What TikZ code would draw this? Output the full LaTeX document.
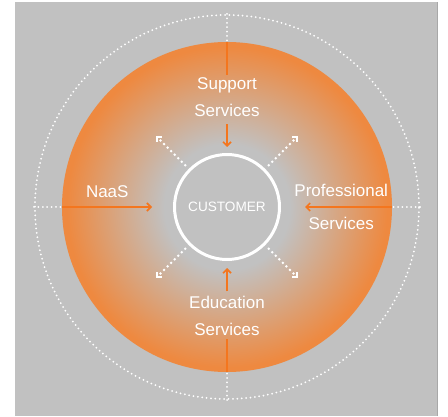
\documentclass[tikz,border=0pt]{standalone}
\usepackage{fontspec}
\setmainfont{Liberation Sans}
\usetikzlibrary{arrows.meta, positioning, calc}
\definecolor{panelgrey}{HTML}{C1C1C1}
\definecolor{edgegrey}{HTML}{A8A8A8}
\definecolor{ringorange}{HTML}{EE8940}
\definecolor{lineorange}{HTML}{F4761E}
\pgfdeclareradialshading{ringglow}{\pgfpoint{0bp}{0bp}}{%
    color(0bp)=(panelgrey); color(9.5bp)=(panelgrey);
    color(24.3bp)=(ringorange); color(25bp)=(ringorange); color(50bp)=(ringorange)}
\tikzset{
    disc/.style={
        circle, minimum size=330pt, inner sep=0pt,
        shading=ringglow
    },
    orbit/.style={
        circle, minimum size=384pt, inner sep=0pt,
        draw=white, line width=2pt,
        dash pattern=on 0pt off 4.4pt, line cap=round
    },
    hub/.style={
        circle, minimum size=105pt, inner sep=0pt,
        draw=white, line width=3pt, text=white,
        font=\fontsize{13.6}{16}\selectfont
    },
    svc/.style={
        text=white, align=center, inner sep=3pt,
        font=\fontsize{17}{27}\selectfont
    },
    spoke/.style={draw=white, line width=2pt, dash pattern=on 0pt off 4.4pt, line cap=round},
    feed/.style={draw=lineorange, line width=1.6pt},
    feed arr/.style={feed, -{Straight Barb[length=4pt, width=8pt]}},
    spread/.style={draw=white, line width=2pt, dash pattern=on 2pt off 3pt,
        -{Straight Barb[angle=90:5pt, line width=2pt]}}
}
\begin{document}
\begin{tikzpicture}[x=1pt, y=1pt]

    % --- Panel ---
    \useasboundingbox (0,0) rectangle (448,416);
    \fill[panelgrey] (15,0) rectangle (438,414);
    \draw[edgegrey, line width=0.8pt] (437.6,0) -- (437.6,414);

    % --- Circles ---
    \node[orbit] (orbit) at (227,209) {};
    \node[disc] (ring) at (227,209) {};
    \node[hub] (customer) at (ring.center) {CUSTOMER};

    % --- Services round the customer ---
    \node[svc, below=33pt of ring.north] (support) {Support\\Services};
    \node[svc, above=33pt of ring.south] (education) {Education\\Services};
    \node[svc, right=21pt of ring.west, yshift=15pt] (naas) {NaaS};
    \node[svc, left=1pt of ring.east, font=\fontsize{17}{33}\selectfont] (professional) {Professional\\Services};

    % --- Dotted ticks ---
    \draw[spoke] (orbit.north) -- (ring.north);
    \draw[spoke] (orbit.south) -- (ring.south);
    \draw[spoke] (orbit.west) -- (ring.west);
    \draw[spoke] (orbit.east) -- (ring.east);

    % --- Orange feeds ---
    \draw[feed] (ring.north) -- (support.north);
    \draw[feed arr, shorten <=4pt, shorten >=6pt] (support.south) -- (customer.north);
    \draw[feed] (ring.south) -- (education.south);
    \draw[feed arr, shorten <=2pt, shorten >=7pt] (education.north) -- (customer.south);
    \draw[feed arr, shorten >=21pt] (ring.west) -- (customer.west);
    \draw[feed arr, shorten >=24pt] (ring.east) -- (customer.east);

    % --- Diagonal spreads ---
    \foreach \ang/\nm in {45/ne, 135/nw, 225/sw, 315/se} {
        \coordinate (\nm) at ($(customer.center)+(\ang:101)$);
        \draw[spread, shorten <=4pt] (customer.\ang) -- (\nm);
    }

\end{tikzpicture}
\end{document}
